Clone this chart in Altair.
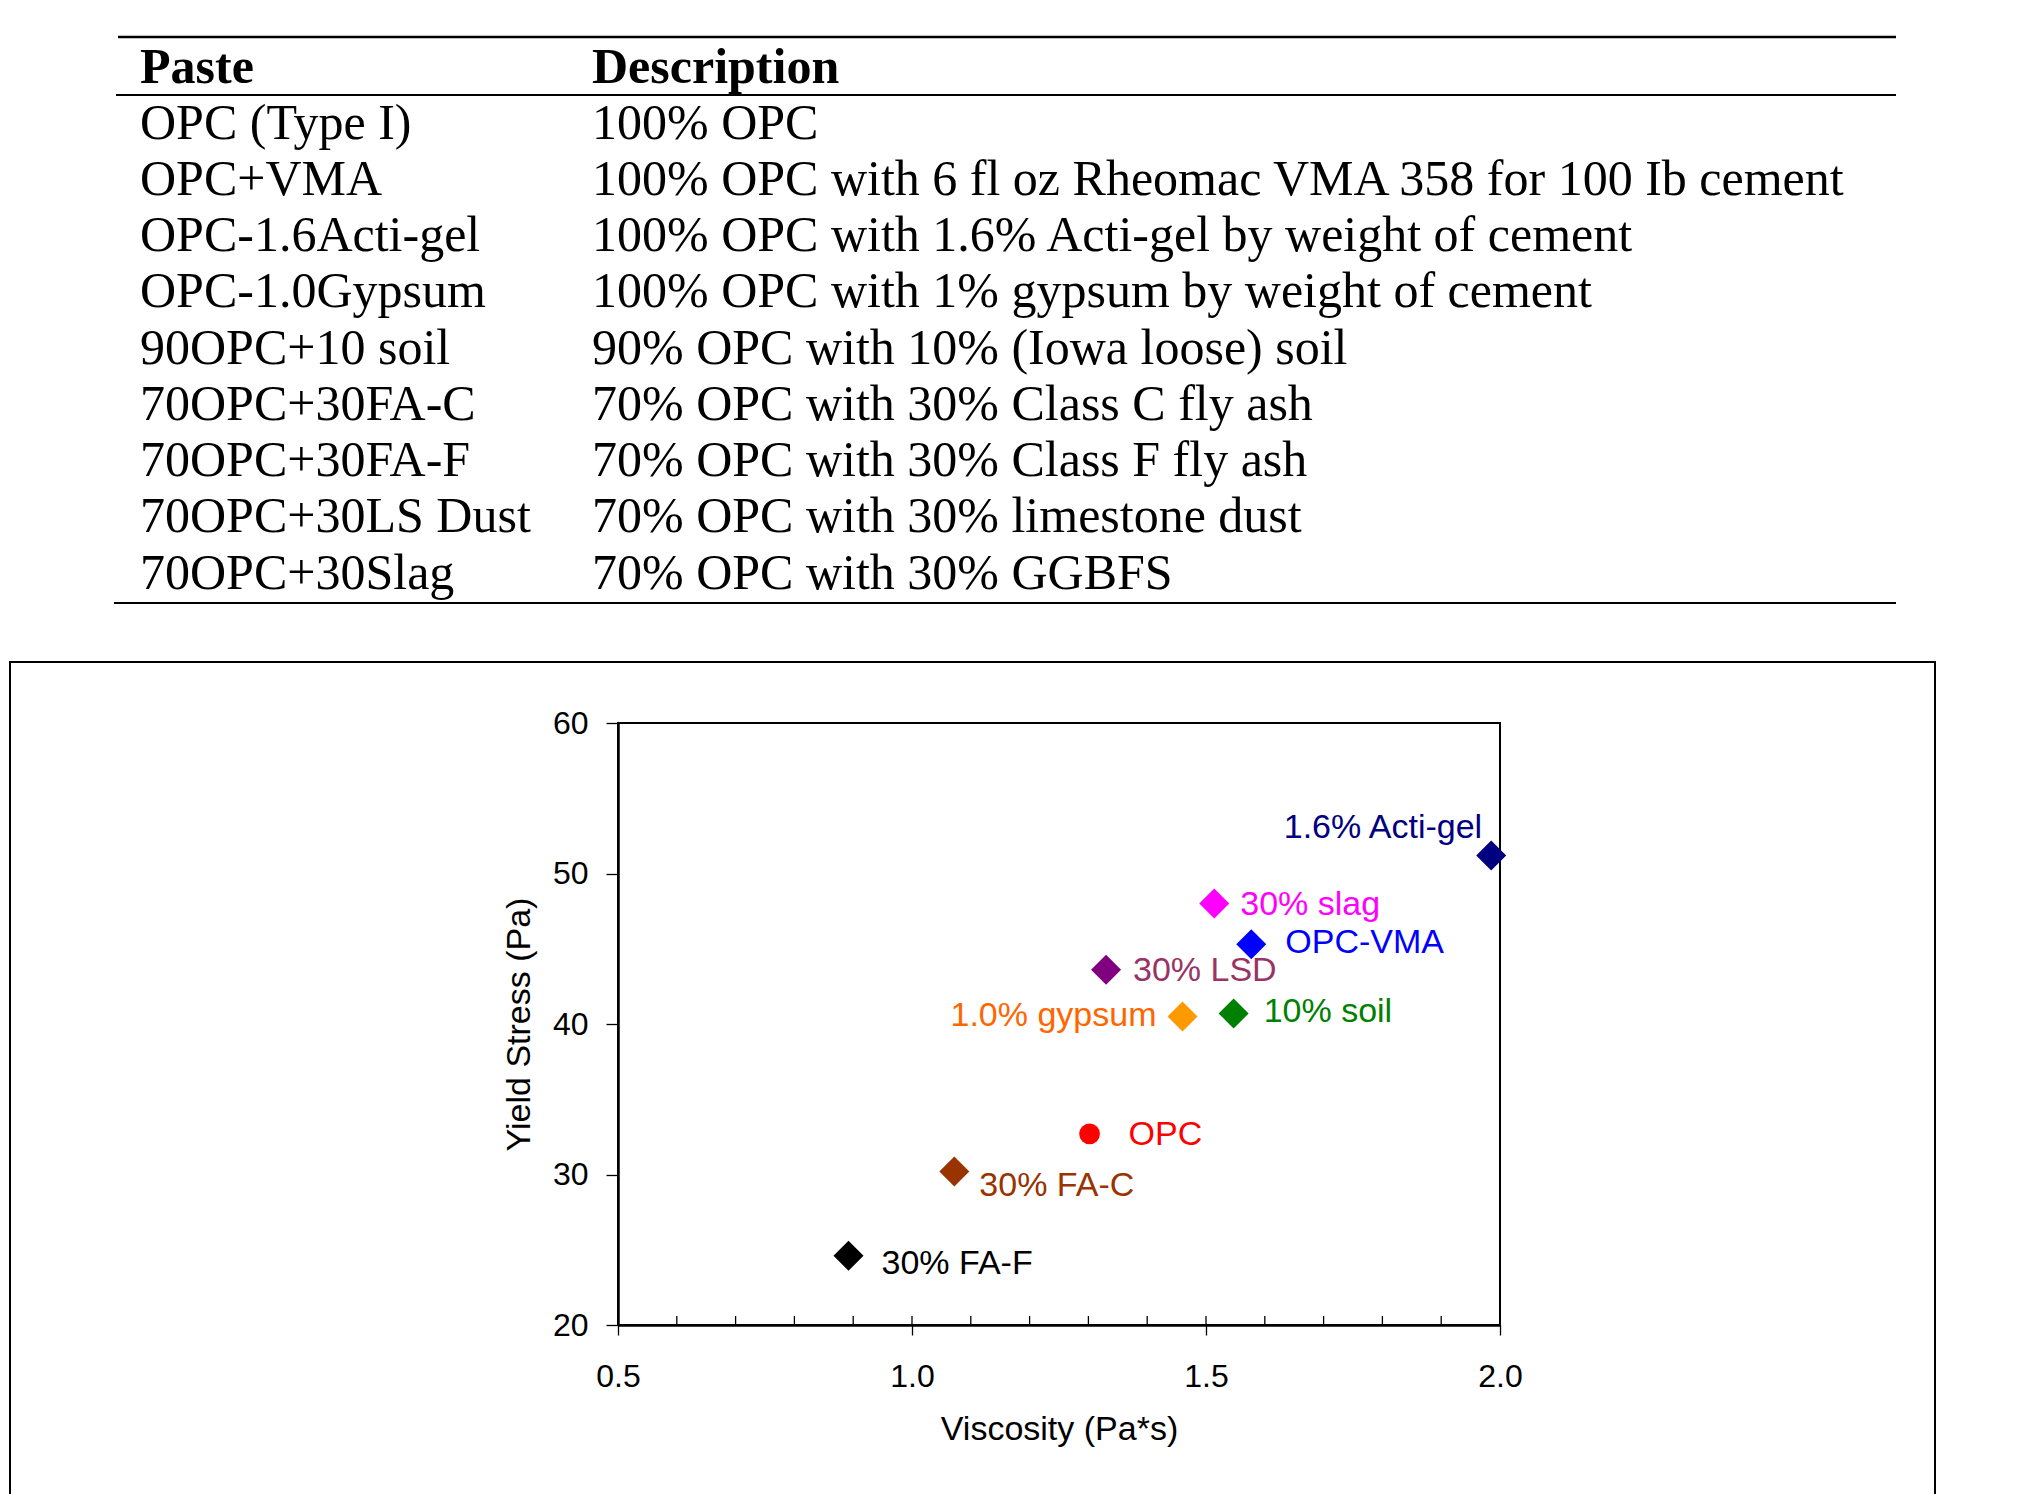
import altair as alt
import pandas as pd

# ---- Mix table ----
table_header = ["Paste", "Description"]
paste_names = [
    "OPC (Type I)",
    "OPC+VMA",
    "OPC-1.6Acti-gel",
    "OPC-1.0Gypsum",
    "90OPC+10 soil",
    "70OPC+30FA-C",
    "70OPC+30FA-F",
    "70OPC+30LS Dust",
    "70OPC+30Slag",
]
paste_descriptions = [
    "100% OPC",
    "100% OPC with 6 fl oz Rheomac VMA 358 for 100 Ib cement",
    "100% OPC with 1.6% Acti-gel by weight of cement",
    "100% OPC with 1% gypsum by weight of cement",
    "90% OPC with 10% (Iowa loose) soil",
    "70% OPC with 30% Class C fly ash",
    "70% OPC with 30% Class F fly ash",
    "70% OPC with 30% limestone dust",
    "70% OPC with 30% GGBFS",
]

# ---- Rheology of the pastes ----
mix_labels = ["1.6% Acti-gel", "30% slag", "OPC-VMA", "30% LSD", "1.0% gypsum",
              "10% soil", "OPC", "30% FA-C", "30% FA-F"]
viscosity = [1.985, 1.514, 1.577, 1.330, 1.460, 1.547, 1.302, 1.072, 0.892]      # Pa*s
yield_stress = [51.2, 48.0, 45.3, 43.6, 40.5, 40.7, 32.7, 30.2, 24.6]           # Pa
marker_colors = ["#000080", "#FF00FF", "#0000FF", "#800080", "#FF9900",
                 "#008000", "#FF0000", "#993300", "#000000"]
label_colors = ["#000080", "#FF00FF", "#0000FF", "#993366", "#FF6600",
                "#008000", "#FF0000", "#993300", "#000000"]
marker_shapes = ["diamond", "diamond", "diamond", "diamond", "diamond",
                 "diamond", "circle", "diamond", "diamond"]

x_ticks = [0.5, 1.0, 1.5, 2.0]
x_minor_ticks = [0.6, 0.7, 0.8, 0.9, 1.0, 1.1, 1.2, 1.3, 1.4, 1.5, 1.6, 1.7, 1.8, 1.9]
y_ticks = [20, 30, 40, 50, 60]

# label placement next to each marker: (align, dx, dy)
label_place = {
    "1.6% Acti-gel": ("right", -9, -27),
    "30% slag": ("left", 26, 1),
    "OPC-VMA": ("left", 34, -1),
    "30% LSD": ("left", 27, 1),
    "1.0% gypsum": ("right", -26, 0),
    "10% soil": ("left", 30, -1),
    "OPC": ("left", 39, 1),
    "30% FA-C": ("left", 25, 15),
    "30% FA-F": ("left", 33, 8),
}

# ---- page geometry (plot area of the scatter) ----
PAGE_W, PAGE_H = 2022, 1494
PLOT_L, PLOT_T = 618, 723
PLOT_W, PLOT_H = 882, 602

SANS = "Liberation Sans"
SERIF = "Liberation Serif"

mixes = pd.DataFrame({
    "mix": mix_labels,
    "viscosity": viscosity,
    "yield_stress": yield_stress,
})

x_scale = alt.Scale(domain=[0.5, 2.0], zero=False, nice=False)
y_scale = alt.Scale(domain=[20, 60], zero=False, nice=False)

x_enc = alt.X(
    "viscosity:Q",
    scale=x_scale,
    axis=alt.Axis(
        values=x_ticks, format=".1f", title="Viscosity (Pa*s)",
        tickSize=10, labelPadding=26, titlePadding=20, grid=False, labelFlush=False,
    ),
)
y_enc = alt.Y(
    "yield_stress:Q",
    scale=y_scale,
    axis=alt.Axis(
        values=y_ticks, format="d", title="Yield Stress (Pa)",
        tickSize=12, labelPadding=18, titlePadding=16, grid=False, labelFlush=False,
    ),
)

points = alt.Chart(mixes).mark_point(filled=True, opacity=1).encode(
    x=x_enc,
    y=y_enc,
    color=alt.Color("mix:N", scale=alt.Scale(domain=mix_labels, range=marker_colors), legend=None),
    shape=alt.Shape("mix:N", scale=alt.Scale(domain=mix_labels, range=marker_shapes), legend=None),
    size=alt.condition(alt.datum.mix == "OPC", alt.value(430), alt.value(900)),
)

label_layers = []
for name, color in zip(mix_labels, label_colors):
    align, dx, dy = label_place[name]
    label_layers.append(
        alt.Chart(mixes)
        .transform_filter(alt.datum.mix == name)
        .mark_text(align=align, baseline="middle", dx=dx, dy=dy,
                   font=SANS, fontSize=34, color=color)
        .encode(x="viscosity:Q", y="yield_stress:Q", text="mix:N")
    )

# inner minor ticks along the viscosity axis
minor = alt.Chart(pd.DataFrame({"viscosity": x_minor_ticks})).mark_rule(
    color="black", strokeWidth=1.3
).encode(
    x="viscosity:Q",
    y=alt.value(PLOT_H),
    y2=alt.value(PLOT_H - 9),
)

scatter = alt.layer(points, minor, *label_layers)

# ---- table drawn above the chart ----
table_rows = [{"row": 0, "col": 0, "text": table_header[0]},
              {"row": 0, "col": 1, "text": table_header[1]}]
for i, (p, d) in enumerate(zip(paste_names, paste_descriptions), start=1):
    table_rows.append({"row": i, "col": 0, "text": p})
    table_rows.append({"row": i, "col": 1, "text": d})
table = pd.DataFrame(table_rows)

tx = alt.X("col:Q", scale=alt.Scale(domain=[0, 1], range=[140 - PLOT_L, 592 - PLOT_L]), axis=None)
ty = alt.Y("row:Q", scale=alt.Scale(domain=[0, 9], range=[82.5 - PLOT_T, 588.5 - PLOT_T]), axis=None)

header_text = alt.Chart(table).transform_filter(alt.datum.row == 0).mark_text(
    align="left", baseline="alphabetic", font=SERIF, fontSize=50, fontWeight="bold", color="black"
).encode(x=tx, y=ty, text="text:N")

body_text = alt.Chart(table).transform_filter(alt.datum.row > 0).mark_text(
    align="left", baseline="alphabetic", font=SERIF, fontSize=50, color="black"
).encode(x=tx, y=ty, text="text:N")

one = pd.DataFrame({"k": [0]})


def hrule(y_px, x0_px, x1_px, w):
    return alt.Chart(one).mark_rule(color="black", strokeWidth=w).encode(
        x=alt.value(x0_px - PLOT_L), x2=alt.value(x1_px - PLOT_L), y=alt.value(y_px - PLOT_T)
    )


rules = [hrule(37, 118, 1896, 2.5), hrule(95, 116, 1896, 2.2), hrule(603, 114, 1896, 2.2)]

# border around the chart area
frame = alt.Chart(one).mark_rect(fill="white", fillOpacity=0, stroke="black", strokeWidth=2).encode(
    x=alt.value(10 - PLOT_L), x2=alt.value(1935 - PLOT_L),
    y=alt.value(662 - PLOT_T), y2=alt.value(PAGE_H + 20 - PLOT_T),
)

chart = (
    alt.layer(frame, *rules, header_text, body_text, scatter)
    .resolve_scale(x="independent", y="independent")
    .properties(
        width=PLOT_W,
        height=PLOT_H,
        autosize=alt.AutoSizeParams(type="none"),
        padding={"left": PLOT_L, "top": PLOT_T,
                 "right": PAGE_W - PLOT_L - PLOT_W, "bottom": PAGE_H - PLOT_T - PLOT_H},
        background="white",
    )
    .configure_view(stroke="black", strokeWidth=2)
    .configure_axis(
        labelFont=SANS, labelFontSize=32, labelColor="black",
        titleFont=SANS, titleFontSize=34, titleFontWeight="normal", titleColor="black",
        domainColor="black", domainWidth=2.5, tickColor="black", tickWidth=1.3,
    )
)

chart.save("out.html", embed_options={"renderer": "svg", "actions": False})
